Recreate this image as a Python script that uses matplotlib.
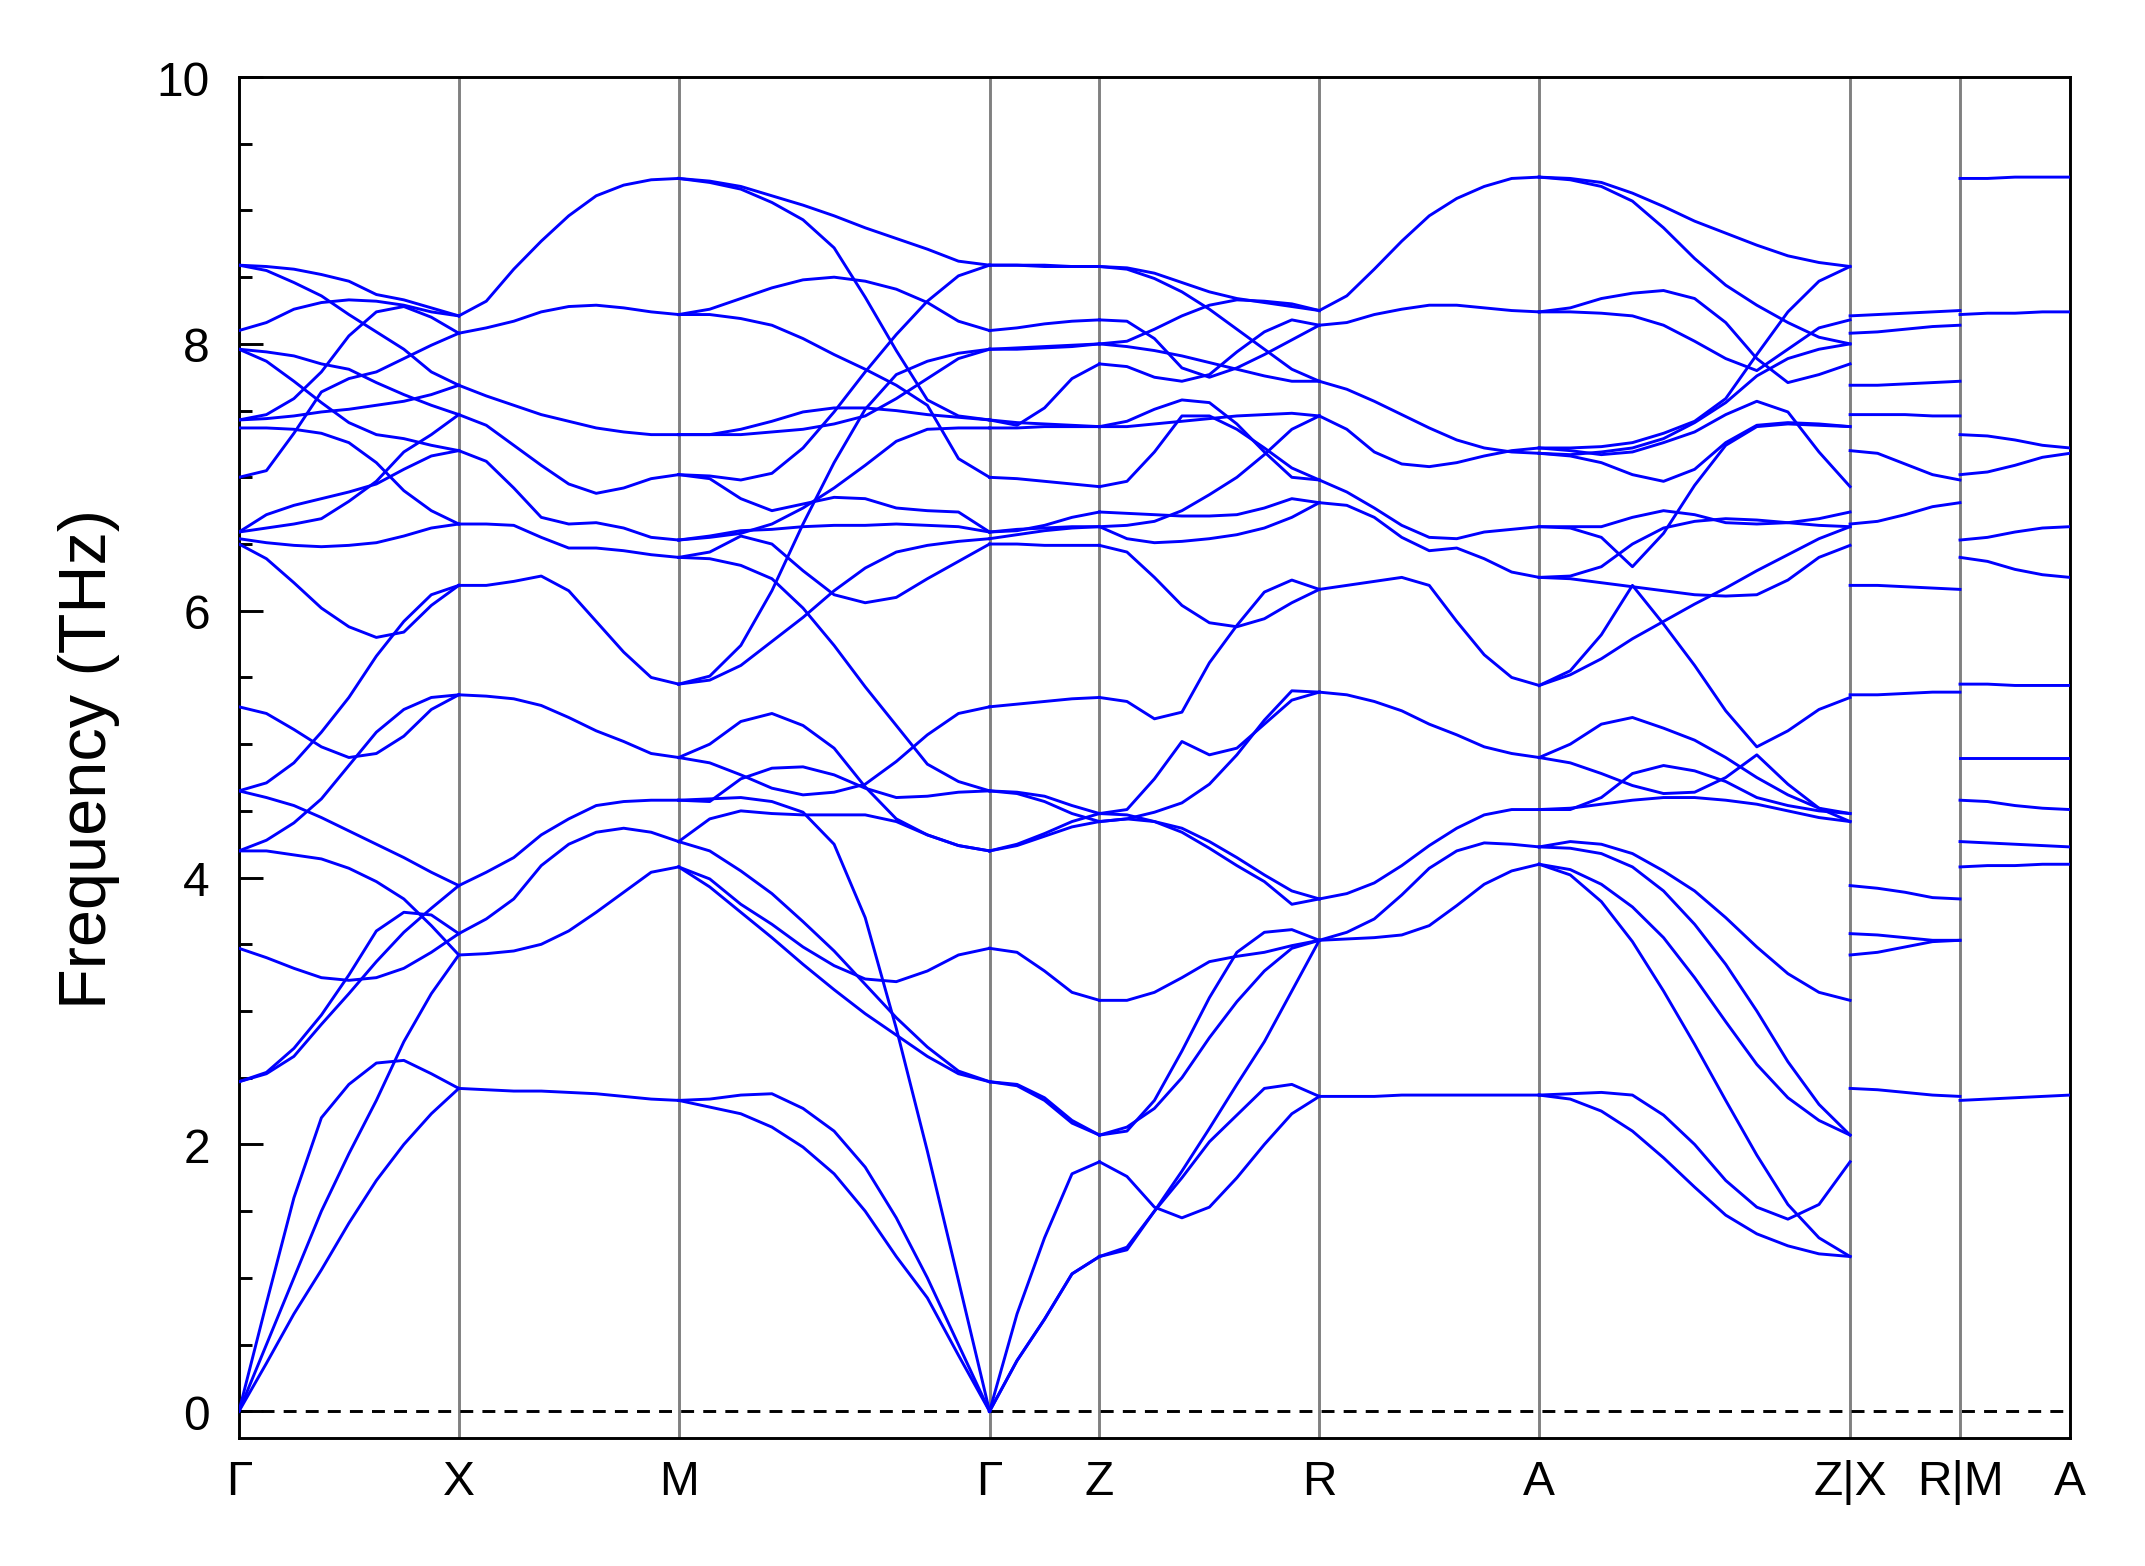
import numpy as np
import matplotlib.pyplot as plt
from matplotlib.ticker import MultipleLocator

plt.rcParams['font.family'] = ['Liberation Sans', 'DejaVu Sans']
plt.rcParams['lines.scale_dashes'] = False

# high symmetry path, segment lengths in units of pi/a (c = 2a)
labels = ['Γ', 'X', 'M', 'Γ', 'Z', 'R', 'A', 'Z|X', 'R|M', 'A']
seg_len = [1.0, 1.0, np.sqrt(2), 0.5, 1.0, 1.0, np.sqrt(2), 0.5, 0.5]

gamma_x = [
    [0.00, 0.81, 1.60, 2.20, 2.45, 2.61, 2.63, 2.53, 2.42],
    [0.00, 0.50, 1.00, 1.50, 1.93, 2.33, 2.77, 3.13, 3.42],
    [0.00, 0.36, 0.73, 1.06, 1.41, 1.73, 2.00, 2.23, 2.42],
    [2.47, 2.53, 2.66, 2.90, 3.13, 3.37, 3.59, 3.77, 3.94],
    [2.47, 2.54, 2.72, 2.97, 3.27, 3.60, 3.74, 3.72, 3.58],
    [3.47, 3.40, 3.32, 3.25, 3.23, 3.25, 3.32, 3.44, 3.58],
    [4.20, 4.20, 4.17, 4.14, 4.07, 3.97, 3.84, 3.64, 3.42],
    [4.65, 4.60, 4.54, 4.45, 4.35, 4.25, 4.15, 4.04, 3.94],
    [4.20, 4.28, 4.41, 4.59, 4.84, 5.09, 5.26, 5.35, 5.37],
    [4.65, 4.71, 4.86, 5.09, 5.35, 5.66, 5.92, 6.12, 6.19],
    [5.28, 5.23, 5.11, 4.98, 4.90, 4.93, 5.06, 5.26, 5.37],
    [6.50, 6.39, 6.21, 6.02, 5.88, 5.80, 5.84, 6.04, 6.19],
    [6.54, 6.51, 6.49, 6.48, 6.49, 6.51, 6.56, 6.62, 6.65],
    [8.59, 8.58, 8.56, 8.52, 8.47, 8.37, 8.33, 8.27, 8.21],
    [8.59, 8.55, 8.46, 8.36, 8.22, 8.09, 7.96, 7.79, 7.69],
    [8.10, 8.16, 8.26, 8.31, 8.33, 8.32, 8.29, 8.24, 8.21],
    [7.43, 7.47, 7.59, 7.79, 8.06, 8.24, 8.28, 8.20, 8.08],
    [7.00, 7.05, 7.33, 7.64, 7.74, 7.79, 7.89, 7.99, 8.08],
    [7.43, 7.44, 7.46, 7.49, 7.51, 7.54, 7.57, 7.62, 7.69],
    [7.96, 7.94, 7.91, 7.85, 7.81, 7.71, 7.62, 7.54, 7.47],
    [7.96, 7.87, 7.72, 7.56, 7.41, 7.32, 7.29, 7.24, 7.20],
    [7.37, 7.37, 7.36, 7.33, 7.26, 7.11, 6.90, 6.75, 6.65],
    [6.59, 6.62, 6.65, 6.69, 6.82, 6.97, 7.19, 7.32, 7.47],
    [6.59, 6.72, 6.79, 6.84, 6.89, 6.95, 7.06, 7.16, 7.20],
]

# zone boundary: bands pairwise degenerate
x_m = [
    [2.42, 2.41, 2.40, 2.40, 2.39, 2.38, 2.36, 2.34, 2.33],
    [3.42, 3.43, 3.45, 3.50, 3.60, 3.74, 3.89, 4.04, 4.08],
    [3.58, 3.69, 3.84, 4.09, 4.25, 4.34, 4.37, 4.34, 4.27],
    [3.94, 4.04, 4.15, 4.32, 4.44, 4.54, 4.57, 4.58, 4.58],
    [5.37, 5.36, 5.34, 5.29, 5.20, 5.10, 5.02, 4.93, 4.90],
    [6.19, 6.19, 6.22, 6.26, 6.15, 5.92, 5.69, 5.50, 5.45],
    [6.65, 6.65, 6.64, 6.55, 6.47, 6.47, 6.45, 6.42, 6.40],
    [7.20, 7.12, 6.92, 6.70, 6.65, 6.66, 6.62, 6.55, 6.53],
    [7.47, 7.39, 7.24, 7.09, 6.95, 6.88, 6.92, 6.99, 7.02],
    [7.69, 7.61, 7.54, 7.47, 7.42, 7.37, 7.34, 7.32, 7.32],
    [8.08, 8.12, 8.17, 8.24, 8.28, 8.29, 8.27, 8.24, 8.22],
    [8.21, 8.32, 8.56, 8.77, 8.96, 9.11, 9.19, 9.23, 9.24],
]

m_gamma = [
    [9.24, 9.22, 9.18, 9.11, 9.04, 8.96, 8.87, 8.79, 8.71, 8.62, 8.59],
    [9.24, 9.21, 9.16, 9.06, 8.93, 8.72, 8.35, 7.95, 7.58, 7.46, 7.43],
    [8.22, 8.26, 8.34, 8.42, 8.48, 8.50, 8.47, 8.41, 8.31, 8.17, 8.10],
    [8.22, 8.22, 8.19, 8.14, 8.04, 7.92, 7.81, 7.69, 7.54, 7.14, 7.00],
    [7.32, 7.32, 7.36, 7.42, 7.49, 7.52, 7.52, 7.50, 7.47, 7.45, 7.43],
    [7.32, 7.32, 7.32, 7.34, 7.36, 7.40, 7.46, 7.59, 7.74, 7.89, 7.96],
    [7.02, 7.01, 6.98, 7.03, 7.22, 7.49, 7.79, 8.07, 8.32, 8.51, 8.59],
    [7.02, 6.99, 6.84, 6.75, 6.80, 6.85, 6.84, 6.77, 6.75, 6.74, 6.59],
    [6.53, 6.55, 6.58, 6.65, 6.77, 6.92, 7.09, 7.27, 7.36, 7.37, 7.37],
    [6.53, 6.56, 6.60, 6.61, 6.63, 6.64, 6.64, 6.65, 6.64, 6.63, 6.59],
    [6.40, 6.44, 6.56, 6.50, 6.30, 6.12, 6.06, 6.10, 6.24, 6.37, 6.50],
    [6.40, 6.39, 6.34, 6.24, 6.02, 5.74, 5.43, 5.14, 4.85, 4.72, 4.65],
    [5.45, 5.51, 5.74, 6.15, 6.65, 7.11, 7.51, 7.77, 7.87, 7.93, 7.96],
    [5.45, 5.48, 5.59, 5.77, 5.95, 6.15, 6.32, 6.44, 6.49, 6.52, 6.54],
    [4.90, 4.86, 4.77, 4.67, 4.62, 4.64, 4.70, 4.87, 5.07, 5.23, 5.28],
    [4.90, 5.00, 5.17, 5.23, 5.14, 4.97, 4.68, 4.44, 4.32, 4.24, 4.20],
    [4.58, 4.57, 4.74, 4.82, 4.83, 4.77, 4.67, 4.60, 4.61, 4.64, 4.65],
    [4.58, 4.59, 4.60, 4.57, 4.49, 4.25, 3.70, 2.87, 1.95, 0.98, 0.00],
    [4.27, 4.44, 4.50, 4.48, 4.47, 4.47, 4.47, 4.42, 4.32, 4.24, 4.20],
    [4.08, 3.99, 3.80, 3.65, 3.48, 3.34, 3.24, 3.22, 3.30, 3.42, 3.47],
    [4.08, 3.93, 3.74, 3.55, 3.35, 3.16, 2.98, 2.82, 2.66, 2.53, 2.47],
    [4.27, 4.20, 4.05, 3.88, 3.67, 3.45, 3.20, 2.95, 2.73, 2.55, 2.47],
    [2.33, 2.34, 2.37, 2.38, 2.27, 2.10, 1.83, 1.45, 1.00, 0.50, 0.00],
    [2.33, 2.28, 2.23, 2.13, 1.98, 1.78, 1.50, 1.16, 0.85, 0.42, 0.00],
]

gamma_z = [
    [8.59, 8.59, 8.59, 8.58, 8.58],
    [8.59, 8.59, 8.58, 8.58, 8.58],
    [8.10, 8.12, 8.15, 8.17, 8.18],
    [7.96, 7.96, 7.97, 7.98, 8.00],
    [7.96, 7.97, 7.98, 7.99, 8.00],
    [7.43, 7.39, 7.52, 7.74, 7.85],
    [7.43, 7.41, 7.40, 7.39, 7.38],
    [7.37, 7.37, 7.38, 7.38, 7.38],
    [7.00, 6.99, 6.97, 6.95, 6.93],
    [6.59, 6.60, 6.64, 6.70, 6.74],
    [6.59, 6.61, 6.62, 6.63, 6.63],
    [6.54, 6.57, 6.60, 6.62, 6.63],
    [6.50, 6.50, 6.49, 6.49, 6.49],
    [5.28, 5.30, 5.32, 5.34, 5.35],
    [4.65, 4.64, 4.61, 4.54, 4.48],
    [4.65, 4.63, 4.57, 4.48, 4.42],
    [4.20, 4.24, 4.31, 4.38, 4.42],
    [4.20, 4.25, 4.33, 4.42, 4.48],
    [3.47, 3.44, 3.30, 3.14, 3.08],
    [2.47, 2.45, 2.35, 2.18, 2.07],
    [2.47, 2.44, 2.33, 2.16, 2.07],
    [0.00, 0.73, 1.30, 1.78, 1.87],
    [0.00, 0.38, 0.69, 1.03, 1.16],
    [0.00, 0.38, 0.69, 1.03, 1.16],
]

z_r = [
    [8.58, 8.57, 8.53, 8.46, 8.39, 8.34, 8.31, 8.28, 8.25],
    [8.58, 8.56, 8.49, 8.39, 8.26, 8.11, 7.96, 7.81, 7.72],
    [8.18, 8.17, 8.04, 7.82, 7.75, 7.82, 7.92, 8.03, 8.14],
    [8.00, 8.02, 8.11, 8.21, 8.29, 8.33, 8.32, 8.30, 8.25],
    [8.00, 7.98, 7.95, 7.91, 7.86, 7.81, 7.76, 7.72, 7.72],
    [7.85, 7.83, 7.75, 7.72, 7.77, 7.94, 8.09, 8.18, 8.14],
    [7.38, 7.38, 7.40, 7.42, 7.44, 7.46, 7.47, 7.48, 7.46],
    [7.38, 7.42, 7.51, 7.58, 7.56, 7.40, 7.19, 7.00, 6.98],
    [6.93, 6.97, 7.19, 7.46, 7.46, 7.36, 7.22, 7.07, 6.98],
    [6.63, 6.64, 6.67, 6.75, 6.87, 7.00, 7.17, 7.36, 7.46],
    [6.74, 6.73, 6.72, 6.71, 6.71, 6.72, 6.77, 6.84, 6.81],
    [6.63, 6.54, 6.51, 6.52, 6.54, 6.57, 6.62, 6.70, 6.81],
    [6.49, 6.44, 6.25, 6.04, 5.91, 5.88, 5.94, 6.06, 6.16],
    [5.35, 5.32, 5.19, 5.24, 5.61, 5.89, 6.14, 6.23, 6.16],
    [4.48, 4.51, 4.74, 5.02, 4.92, 4.97, 5.15, 5.33, 5.39],
    [4.42, 4.44, 4.49, 4.56, 4.70, 4.92, 5.18, 5.40, 5.39],
    [4.48, 4.47, 4.42, 4.34, 4.22, 4.09, 3.97, 3.80, 3.84],
    [4.42, 4.44, 4.42, 4.37, 4.27, 4.15, 4.02, 3.90, 3.84],
    [3.08, 3.08, 3.14, 3.25, 3.37, 3.41, 3.44, 3.49, 3.53],
    [2.07, 2.10, 2.33, 2.70, 3.10, 3.44, 3.59, 3.61, 3.53],
    [2.07, 2.13, 2.27, 2.50, 2.80, 3.07, 3.30, 3.47, 3.53],
    [1.87, 1.76, 1.53, 1.45, 1.53, 1.75, 2.00, 2.23, 2.36],
    [1.16, 1.23, 1.50, 1.75, 2.02, 2.22, 2.42, 2.45, 2.36],
    [1.16, 1.21, 1.50, 1.80, 2.12, 2.45, 2.77, 3.15, 3.53],
]

r_a = [
    [8.25, 8.36, 8.56, 8.77, 8.96, 9.09, 9.18, 9.24, 9.25],
    [8.14, 8.16, 8.22, 8.26, 8.29, 8.29, 8.27, 8.25, 8.24],
    [7.72, 7.66, 7.57, 7.47, 7.37, 7.28, 7.22, 7.19, 7.18],
    [7.46, 7.36, 7.19, 7.10, 7.08, 7.11, 7.16, 7.20, 7.22],
    [6.98, 6.89, 6.77, 6.64, 6.55, 6.54, 6.59, 6.61, 6.63],
    [6.81, 6.79, 6.70, 6.55, 6.45, 6.47, 6.39, 6.29, 6.25],
    [6.16, 6.19, 6.22, 6.25, 6.19, 5.92, 5.67, 5.50, 5.44],
    [5.39, 5.37, 5.32, 5.25, 5.15, 5.07, 4.98, 4.93, 4.90],
    [3.84, 3.88, 3.96, 4.09, 4.24, 4.37, 4.47, 4.51, 4.51],
    [3.53, 3.59, 3.69, 3.87, 4.07, 4.20, 4.26, 4.25, 4.23],
    [3.53, 3.54, 3.55, 3.57, 3.64, 3.79, 3.95, 4.05, 4.10],
    [2.36, 2.36, 2.36, 2.37, 2.37, 2.37, 2.37, 2.37, 2.37],
]

a_z = [
    [9.25, 9.24, 9.21, 9.13, 9.03, 8.92, 8.83, 8.74, 8.66, 8.61, 8.58],
    [9.25, 9.23, 9.18, 9.07, 8.87, 8.64, 8.44, 8.29, 8.16, 8.05, 8.00],
    [8.24, 8.27, 8.34, 8.38, 8.40, 8.34, 8.16, 7.89, 7.71, 7.77, 7.85],
    [8.24, 8.24, 8.23, 8.21, 8.14, 8.02, 7.89, 7.80, 7.96, 8.12, 8.18],
    [7.22, 7.22, 7.23, 7.26, 7.33, 7.42, 7.59, 7.92, 8.24, 8.47, 8.58],
    [7.18, 7.17, 7.19, 7.22, 7.29, 7.41, 7.56, 7.76, 7.89, 7.96, 8.00],
    [7.22, 7.20, 7.17, 7.19, 7.26, 7.34, 7.47, 7.57, 7.49, 7.19, 6.93],
    [7.18, 7.16, 7.11, 7.02, 6.97, 7.06, 7.26, 7.39, 7.41, 7.40, 7.38],
    [6.63, 6.62, 6.55, 6.33, 6.58, 6.94, 7.24, 7.38, 7.40, 7.39, 7.38],
    [6.63, 6.63, 6.63, 6.70, 6.75, 6.72, 6.66, 6.65, 6.66, 6.69, 6.74],
    [6.25, 6.26, 6.33, 6.50, 6.62, 6.67, 6.69, 6.68, 6.66, 6.64, 6.63],
    [6.25, 6.24, 6.21, 6.18, 6.15, 6.12, 6.11, 6.12, 6.23, 6.40, 6.49],
    [5.44, 5.52, 5.64, 5.79, 5.92, 6.05, 6.17, 6.30, 6.42, 6.54, 6.63],
    [5.44, 5.55, 5.82, 6.19, 5.90, 5.59, 5.25, 4.98, 5.10, 5.26, 5.35],
    [4.90, 5.00, 5.15, 5.20, 5.12, 5.03, 4.90, 4.75, 4.62, 4.52, 4.48],
    [4.90, 4.86, 4.78, 4.69, 4.63, 4.64, 4.75, 4.92, 4.70, 4.52, 4.42],
    [4.51, 4.51, 4.60, 4.78, 4.84, 4.80, 4.72, 4.60, 4.54, 4.50, 4.48],
    [4.51, 4.52, 4.55, 4.58, 4.60, 4.60, 4.58, 4.55, 4.50, 4.45, 4.42],
    [4.23, 4.27, 4.25, 4.18, 4.05, 3.90, 3.70, 3.48, 3.28, 3.14, 3.08],
    [4.23, 4.22, 4.18, 4.08, 3.90, 3.65, 3.35, 3.00, 2.62, 2.30, 2.07],
    [4.10, 4.06, 3.95, 3.78, 3.55, 3.25, 2.92, 2.60, 2.35, 2.18, 2.07],
    [4.10, 4.02, 3.82, 3.52, 3.15, 2.75, 2.33, 1.92, 1.55, 1.30, 1.16],
    [2.37, 2.38, 2.39, 2.37, 2.22, 2.00, 1.73, 1.53, 1.44, 1.55, 1.87],
    [2.37, 2.34, 2.25, 2.10, 1.90, 1.68, 1.47, 1.33, 1.24, 1.18, 1.16],
]

x_r = [
    [8.21, 8.22, 8.23, 8.24, 8.25],
    [8.08, 8.09, 8.11, 8.13, 8.14],
    [7.69, 7.69, 7.70, 7.71, 7.72],
    [7.47, 7.47, 7.47, 7.46, 7.46],
    [7.20, 7.18, 7.10, 7.02, 6.98],
    [6.65, 6.67, 6.72, 6.78, 6.81],
    [6.19, 6.19, 6.18, 6.17, 6.16],
    [5.37, 5.37, 5.38, 5.39, 5.39],
    [3.94, 3.92, 3.89, 3.85, 3.84],
    [3.58, 3.57, 3.55, 3.53, 3.53],
    [3.42, 3.44, 3.48, 3.52, 3.53],
    [2.42, 2.41, 2.39, 2.37, 2.36],
]

m_a = [
    [9.24, 9.24, 9.25, 9.25, 9.25],
    [8.22, 8.23, 8.23, 8.24, 8.24],
    [7.32, 7.31, 7.28, 7.24, 7.22],
    [7.02, 7.04, 7.09, 7.15, 7.18],
    [6.53, 6.55, 6.59, 6.62, 6.63],
    [6.40, 6.37, 6.31, 6.27, 6.25],
    [5.45, 5.45, 5.44, 5.44, 5.44],
    [4.90, 4.90, 4.90, 4.90, 4.90],
    [4.58, 4.57, 4.54, 4.52, 4.51],
    [4.27, 4.26, 4.25, 4.24, 4.23],
    [4.08, 4.09, 4.09, 4.10, 4.10],
    [2.33, 2.34, 2.35, 2.36, 2.37],
]

segments = [gamma_x, x_m, m_gamma, gamma_z, z_r, r_a, a_z, x_r, m_a]
nodes = np.concatenate([[0.0], np.cumsum(seg_len)])

fig = plt.figure(figsize=(7.15, 5.2233), dpi=300)
ax = fig.add_axes([0.1114, 0.0817, 0.8536, 0.8685])

for bands, x0, x1 in zip(segments, nodes[:-1], nodes[1:]):
    bands = np.array(bands)
    k = np.linspace(x0, x1, bands.shape[1])
    for b in bands:
        ax.plot(k, b, color='#0000ff', lw=0.7, zorder=3)

for xv in nodes[1:-1]:
    ax.axvline(xv, color='gray', lw=0.7, zorder=1)
ax.axhline(0, color='black', lw=0.7, linestyle='--', dashes=(3.1, 2.2), zorder=2)

ax.set_xlim(nodes[0], nodes[-1])
ax.set_ylim(-0.2, 10)
ax.set_xticks(nodes)
ax.set_xticklabels(labels)
ax.yaxis.set_major_locator(MultipleLocator(2))
ax.yaxis.set_minor_locator(MultipleLocator(0.5))
ax.tick_params(axis='y', which='major', direction='in', length=5.8, width=0.7,
               labelsize=11.5, pad=7)
ax.tick_params(axis='y', which='minor', direction='in', length=3, width=0.7)
ax.tick_params(axis='x', length=0, labelsize=11.5, pad=5)
for sp in ax.spines.values():
    sp.set_linewidth(0.7)

ax.set_ylabel('Frequency (THz)', fontsize=16)
ax.yaxis.label.set_va('center')
ax.yaxis.set_label_coords(-0.082, 0.5)

fig.savefig('out.png', dpi=300)
